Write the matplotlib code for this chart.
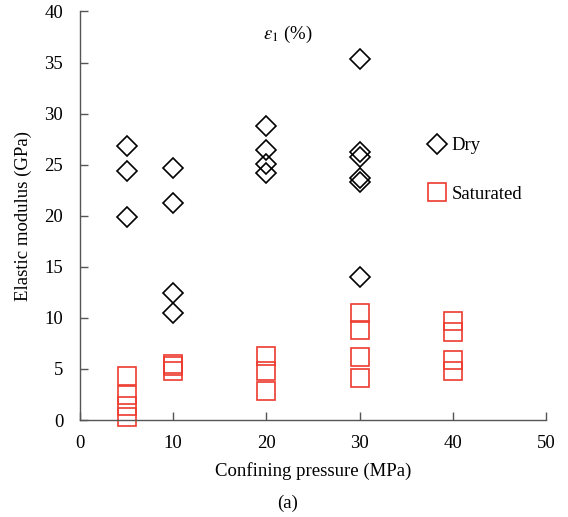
import numpy as np
import matplotlib
matplotlib.use("Agg")
import matplotlib.pyplot as plt
from matplotlib.lines import Line2D

plt.rcParams['font.family'] = ['Liberation Serif', 'DejaVu Serif']
plt.rcParams['mathtext.fontset'] = 'stix'

# Dry specimens: confining pressure (MPa) and elastic modulus (GPa)
dry_p = [5, 5, 5,
         10, 10, 10, 10,
         20, 20, 20, 20,
         30, 30, 30, 30, 30, 30]
dry_e = [26.8, 24.4, 19.9,
         24.7, 21.2, 12.4, 10.5,
         28.8, 26.4, 25.1, 24.2,
         35.3, 26.2, 25.8, 23.7, 23.3, 14.0]

# Saturated specimens
sat_p = [5, 5, 5, 5,
         10, 10, 10,
         20, 20, 20,
         30, 30, 30, 30,
         40, 40, 40, 40]
sat_e = [4.3, 2.4, 1.4, 0.3,
         5.5, 5.3, 4.8,
         6.3, 4.8, 2.8,
         10.5, 8.8, 6.2, 4.1,
         9.7, 8.6, 5.9, 4.8]

red = '#EE3B2F'
fs = 13.5

fig = plt.figure(figsize=(5.68, 5.17), dpi=100)
ax = fig.add_axes([0.1408, 0.1876, 0.8205, 0.7902])

ax.plot(dry_p, dry_e, 'D', markersize=9.8, markerfacecolor='none',
        markeredgecolor='black', markeredgewidth=1.2, clip_on=False)
ax.plot(sat_p, sat_e, 's', markersize=13, markerfacecolor='none',
        markeredgecolor=red, markeredgewidth=1.2, clip_on=False)

ax.set_xlim(0, 50)
ax.set_ylim(0, 40)
ax.set_xticks(np.arange(0, 51, 10))
ax.set_yticks(np.arange(0, 41, 5))

for s in ['top', 'right']:
    ax.spines[s].set_visible(False)
for s in ['left', 'bottom']:
    ax.spines[s].set_color('#555555')
    ax.spines[s].set_linewidth(1.0)
ax.tick_params(direction='in', length=6, width=1.0, color='#555555',
               labelsize=fs)
ax.tick_params(axis='x', pad=11)
ax.tick_params(axis='y', pad=12)

ax.set_xlabel('Confining pressure (MPa)', fontsize=fs, labelpad=7)
ax.set_ylabel('Elastic modulus (GPa)', fontsize=fs, labelpad=9)

ax.text(22.3, 37.8, r'$\varepsilon_{\rm 1}$ (%)', fontsize=fs,
        ha='center', va='center')

handles = [
    Line2D([], [], linestyle='none', marker='D', markersize=9.8,
           markerfacecolor='none', markeredgecolor='black',
           markeredgewidth=1.2, label='Dry'),
    Line2D([], [], linestyle='none', marker='s', markersize=13,
           markerfacecolor='none', markeredgecolor=red,
           markeredgewidth=1.2, label='Saturated'),
]
ax.legend(handles=handles, loc='upper left', bbox_to_anchor=(0.725, 0.715),
          frameon=False, fontsize=fs, handlelength=1.0, handletextpad=0.3,
          labelspacing=1.67, borderpad=0)

fig.text(0.507, 0.027, '(a)', fontsize=fs, ha='center', va='center')

fig.savefig('out.png', dpi=100)
